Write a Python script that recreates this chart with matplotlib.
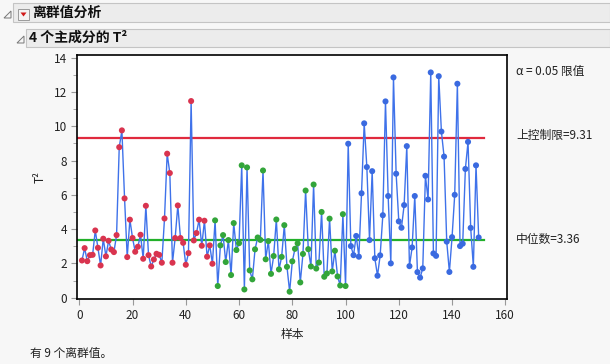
import matplotlib
matplotlib.use("Agg")
import matplotlib.pyplot as plt
from matplotlib.patches import Rectangle, Polygon
import numpy as np

plt.rcParams['font.family'] = ['Noto Sans CJK SC', 'DejaVu Sans']

# ---- data ----
t2_values = [
    2.17, 2.89, 2.13, 2.48, 2.50, 3.92, 2.91, 1.88, 3.44, 2.41,
    3.32, 2.81, 2.66, 3.65, 8.78, 9.76, 5.79, 2.37, 4.55, 3.48,
    2.68, 2.97, 3.67, 2.27, 5.36, 2.48, 1.82, 2.23, 2.56, 2.50,
    2.04, 4.62, 8.40, 7.27, 2.04, 3.48, 5.38, 3.48, 3.20, 1.92,
    2.60, 11.47, 3.34, 3.77, 4.55, 3.03, 4.49, 2.39, 3.05, 1.98,
    4.51, 0.68, 3.05, 3.65, 2.08, 3.36, 1.32, 4.35, 2.78, 3.18,
    7.72, 0.48, 7.60, 1.59, 1.07, 2.82, 3.51, 3.37, 7.42, 2.24,
    3.30, 1.39, 2.43, 4.56, 1.65, 2.38, 4.23, 1.80, 0.35, 2.12,
    2.85, 3.17, 0.89, 2.55, 6.25, 2.83, 1.82, 6.60, 1.70, 2.05,
    5.00, 1.22, 1.41, 4.61, 1.53, 2.74, 1.24, 0.71, 4.87, 0.68,
    8.98, 3.01, 2.48, 3.60, 2.39, 6.09, 10.17, 7.62, 3.36, 7.38,
    2.30, 1.28, 2.47, 4.81, 11.45, 5.93, 2.00, 12.85, 7.23, 4.45,
    4.08, 5.40, 8.84, 1.84, 2.93, 5.93, 1.49, 1.17, 1.71, 7.11,
    5.73, 13.14, 2.58, 2.44, 12.92, 9.69, 8.23, 3.27, 1.50, 3.53,
    6.00, 12.48, 3.01, 3.15, 7.51, 9.09, 4.07, 1.80, 7.72, 3.51,
]
samples = list(range(1, len(t2_values) + 1))
group_colors = ['#d9344f'] * 50 + ['#33a53a'] * 50 + ['#3a6ae0'] * 50
ucl = 9.31
median = 3.36
x_ticks = [0, 20, 40, 60, 80, 100, 120, 140, 160]
y_ticks = [0, 2, 4, 6, 8, 10, 12, 14]

W, H = 610, 364
fig = plt.figure(figsize=(W / 100, H / 100), dpi=100)
fig.patch.set_facecolor('#f7f7f7')

def fx(x):
    return x / W

def fy(y):
    return 1 - y / H

# ---- header bars ----
fig.patches.append(Rectangle((fx(13), fy(22)), fx(610 - 13), 19 / H,
                             transform=fig.transFigure, facecolor='#ececec',
                             edgecolor='#c4c4c4', lw=0.8))
fig.patches.append(Rectangle((fx(26), fy(47)), fx(610 - 26), 18 / H,
                             transform=fig.transFigure, facecolor='#ececec',
                             edgecolor='#c4c4c4', lw=0.8))
# collapse triangles
for (x0, y0) in [(4, 18), (17, 43)]:
    fig.patches.append(Polygon([(fx(x0), fy(y0)), (fx(x0 + 7), fy(y0)),
                                (fx(x0 + 7), fy(y0 - 7))], closed=True,
                               transform=fig.transFigure, facecolor='none',
                               edgecolor='#777777', lw=0.7))
# red dropdown button
fig.patches.append(Rectangle((fx(18), fy(20)), fx(11), 11 / H,
                             transform=fig.transFigure, facecolor='#f4f4f4',
                             edgecolor='#9a9a9a', lw=0.7))
fig.patches.append(Polygon([(fx(20.5), fy(12.5)), (fx(26.5), fy(12.5)),
                            (fx(23.5), fy(16.5))], closed=True,
                           transform=fig.transFigure, facecolor='#d01a1a',
                           edgecolor='none'))
fig.text(fx(32), fy(13), '离群值分析', fontsize=10, fontweight='bold',
         va='center', ha='left', color='#111111')
fig.text(fx(29), fy(38), '4 个主成分的 T²', fontsize=10, fontweight='bold',
         va='center', ha='left', color='#111111')

# ---- main axes ----
left, right, top, bottom = 77.3, 507.3, 55.3, 298.7
ax = fig.add_axes([fx(left), fy(bottom), fx(right - left), (bottom - top) / H])
ax.set_facecolor('white')

ax.plot(samples, t2_values, color='#3f72ea', lw=1.0, zorder=2)
ax.scatter(samples, t2_values, c=group_colors, s=19, zorder=3,
           edgecolors='none')
ax.axhline(ucl, xmin=0, xmax=(152 + 0.75) / 161.5, color='#e02a3e', lw=1.6,
           zorder=1)
ax.axhline(median, xmin=0, xmax=(152 + 0.75) / 161.5, color='#22b02a', lw=1.6,
           zorder=1)

ax.set_xlim(-0.75, 160.75)
ax.set_ylim(-0.06, 14.14)
ax.set_xticks(x_ticks)
ax.set_yticks(y_ticks)
ax.set_yticks(np.arange(0, 15, 1), minor=True)
ax.tick_params(axis='both', which='both', direction='out', color='#999999',
               labelsize=8.5, labelcolor='#222222')
ax.tick_params(axis='both', which='major', length=4)
ax.tick_params(axis='y', which='minor', length=3)
for s in ax.spines.values():
    s.set_color('black')
    s.set_linewidth(1.2)

ax.set_xlabel('样本', fontsize=8.5, color='#222222', labelpad=4)
ax.set_ylabel('T²', fontsize=8.5, color='#222222', labelpad=5)

fig.text(fx(516), fy(72), 'α = 0.05 限值', fontsize=8.5, va='center',
         ha='left', color='#222222')
fig.text(fx(516), fy(136), '上控制限=9.31', fontsize=8.5, va='center',
         ha='left', color='#222222')
fig.text(fx(516), fy(239), '中位数=3.36', fontsize=8.5, va='center',
         ha='left', color='#222222')
fig.text(fx(30), fy(353), '有 9 个离群值。', fontsize=8.5, va='center',
         ha='left', color='#222222')

fig.savefig('out.png', dpi=100, facecolor=fig.get_facecolor())
